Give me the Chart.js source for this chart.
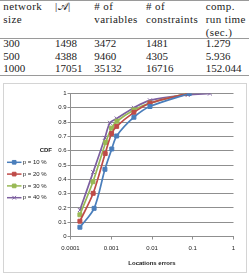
<!DOCTYPE html>
<html><head><meta charset="utf-8">
<script src="https://cdn.jsdelivr.net/npm/chart.js@4"></script>
<style>
html,body{margin:0;padding:0;background:#fff;width:249px;height:275px;overflow:hidden}
.t{position:absolute;font-family:'Liberation Serif','Times New Roman',serif;font-size:11px;color:#222;line-height:12.7px;white-space:nowrap}
.h{letter-spacing:0.4px}
.rule{position:absolute;left:0;width:249px;height:0;border-top:1px solid #9a9a9a}
#box{position:absolute;left:3px;top:83px;width:244px;height:190px;border:1px solid #d4d4d4;box-sizing:border-box;background:#fff}
#c{position:absolute;left:0;top:0}
</style></head><body>
<div id="tbl"></div>
<div id="box"><canvas id="c" width="242" height="188"></canvas></div>
<script>
// ---- table data ----
const tableHeaders = [["network","size"],["|\u{1D49C}|"],["# of","variables"],["# of","constraints"],["comp.","run time","(sec.)"]];
const networkSizes = ["300","500","1000"];
const aSizes = ["1498","4388","17051"];
const numVariables = ["3472","9460","35132"];
const numConstraints = ["1481","4305","16716"];
const runTimes = ["1.279","5.936","152.044"];

// ---- chart data ----
const seriesLabels = ["p = 10 %","p = 20 %","p = 30 %","p = 40 %"];
const errP10 = [1.7e-4, 3.8e-4, 7.0e-4, 1.03e-3, 1.36e-3, 3.6e-3, 8.9e-3, 0.082];
const cdfP10 = [0.065, 0.197, 0.47, 0.612, 0.703, 0.834, 0.909, 1.0];
const errP20 = [1.7e-4, 3.6e-4, 7.1e-4, 1.02e-3, 1.36e-3, 3.6e-3, 8.9e-3, 0.075];
const cdfP20 = [0.107, 0.302, 0.58, 0.72, 0.77, 0.868, 0.932, 1.0];
const errP30 = [1.7e-4, 3.56e-4, 7.3e-4, 1.02e-3, 1.38e-3, 3.6e-3, 8.9e-3, 0.073];
const cdfP30 = [0.152, 0.383, 0.658, 0.758, 0.806, 0.885, 0.933, 1.0];
const errP40 = [1.7e-4, 3.6e-4, 7.0e-4, 9.3e-4, 1.36e-3, 3.6e-3, 8.9e-3, 0.075, 0.265];
const cdfP40 = [0.185, 0.45, 0.69, 0.795, 0.825, 0.9, 0.952, 0.99, 1.0];
const xTickLabels = ["0.0001","0.001","0.01","0.1","1"];
const yTitle = "CDF";
const xTitle = "Locations errors";

// ---- build table ----
const colX = [3.3, 55, 94.3, 146, 205.7];
const tbl = document.getElementById('tbl');
function addText(txt, x, y, cls){ const d=document.createElement('div'); d.className='t'+(cls?' '+cls:''); d.style.left=x+'px'; d.style.top=y+'px'; d.textContent=txt; tbl.appendChild(d); }
tableHeaders.forEach((lines,ci)=>lines.forEach((l,li)=>addText(l, colX[ci], 0.4 + li*12.7, 'h')));
const cols = [networkSizes, aSizes, numVariables, numConstraints, runTimes];
cols.forEach((col,ci)=>col.forEach((v,ri)=>addText(v, colX[ci], 37 + ri*12.7)));
[0, 37.5, 75].forEach(y=>{ const r=document.createElement('div'); r.className='rule'; r.style.top=y+'px'; tbl.appendChild(r); });

// ---- chart ----
const colors = ['#4A7EBB','#BE4B48','#98B954','#7D60A0'];
const styles = ['rect','rect','rect','crossRot'];
const errs = [errP10, errP20, errP30, errP40];
const cdfs = [cdfP10, cdfP20, cdfP30, cdfP40];
const datasets = seriesLabels.map((lab,i)=>({
  label: lab,
  data: errs[i].map((x,j)=>({x:x, y:cdfs[i][j]})),
  borderColor: colors[i], backgroundColor: colors[i],
  pointStyle: styles[i], pointRadius: 2.8, pointBorderWidth: 1,
  pointHoverRadius: 2.8,
  borderWidth: 1.7, tension: 0.3, fill:false
}));

const overlay = {
  id:'overlay',
  afterDraw(chart){
    const ctx = chart.ctx; ctx.save();
    ctx.fillStyle='#222'; ctx.textBaseline='middle';
    ctx.font='bold 6px "Liberation Sans", Arial, sans-serif'; ctx.textAlign='center';
    ctx.fillText(yTitle, 41.8, chart.scales.y.getPixelForValue(0.6));
    ctx.font='6px "Liberation Sans", Arial, sans-serif'; ctx.textAlign='left';
    chart.data.datasets.forEach((ds,i)=>{
      const y = 78.3 + i*11.8;
      ctx.strokeStyle = ds.borderColor; ctx.lineWidth = 1.5;
      ctx.beginPath(); ctx.moveTo(3,y); ctx.lineTo(17.5,y); ctx.stroke();
      ctx.fillStyle = ds.backgroundColor; ctx.strokeStyle = ds.borderColor; ctx.lineWidth = 1;
      Chart.helpers.drawPoint(ctx, {pointStyle: ds.pointStyle, rotation:0, radius:2.6, borderWidth:1}, 10.2, y);
      ctx.fillStyle='#222';
      ctx.fillText(ds.label, 18.8, y);
    });
    ctx.restore();
  }
};

const gridColor = '#8f8f8f';
new Chart(document.getElementById('c'), {
  type:'line',
  data:{ datasets },
  options:{
    responsive:false, animation:false, events:[],
    layout:{ padding:{left:0, right:12.5, top:9.5, bottom:0} },
    plugins:{ legend:{display:false}, tooltip:{enabled:false} },
    scales:{
      x:{
        type:'logarithmic', min:1e-4, max:1,
        afterBuildTicks: s => { s.ticks = xTickLabels.map(l=>({value:Number(l), major:true})); },
        afterFit: s => { s.height = 35.5; },
        ticks:{ callback:(v)=> { const i = xTickLabels.findIndex(l=>Math.abs(Number(l)-v)/v<1e-6); return i>=0?xTickLabels[i]:null; },
          font:{family:'"Liberation Sans", Arial, sans-serif', size:6}, color:'#222', padding:5, maxRotation:0, autoSkip:false },
        grid:{ drawOnChartArea:false, color:gridColor, tickLength:3, lineWidth:1 },
        border:{ color:gridColor, width:1 },
        title:{ display:true, text:xTitle, color:'#222', font:{family:'"Liberation Sans", Arial, sans-serif', size:6, weight:'bold'}, padding:{top:0,bottom:5} }
      },
      y:{
        min:0, max:1,
        afterFit: s => { s.width = 66.5; },
        ticks:{ stepSize:0.1, callback:v=>String(+v.toFixed(1)), font:{family:'"Liberation Sans", Arial, sans-serif', size:6}, color:'#222', padding:1 },
        grid:{ color:gridColor, tickLength:3, lineWidth:1 },
        border:{ color:gridColor, width:1 }
      }
    }
  },
  plugins:[overlay]
});
</script>
</body></html>
